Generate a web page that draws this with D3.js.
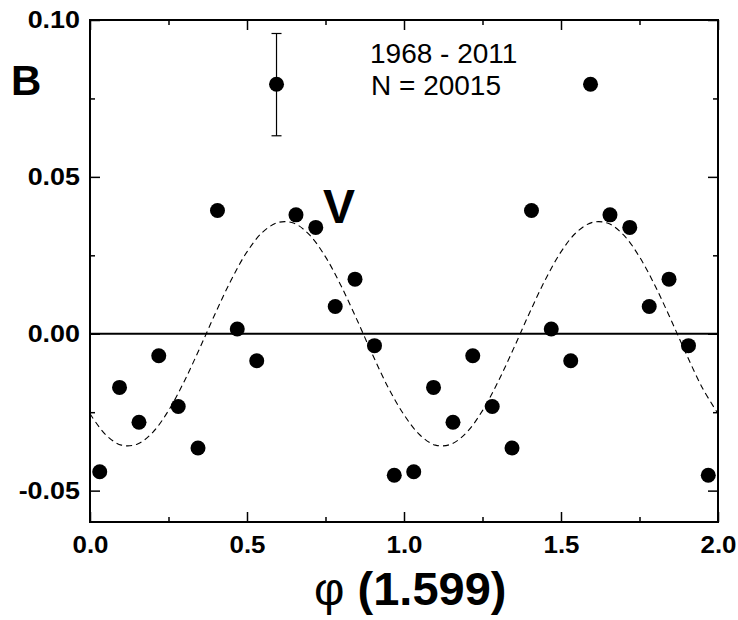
<!DOCTYPE html>
<html>
<head>
<meta charset="utf-8">
<script src="https://cdn.jsdelivr.net/npm/d3@7"></script>
<style>
  body { margin: 0; background: #fff; }
  svg { display: block; font-family: "Liberation Sans", Arial, sans-serif; }
</style>
</head>
<body>
<div id="chart"></div>
<script>
// phase-folded points, two cycles
const phase = [0.031, 0.094, 0.156, 0.219, 0.281, 0.344, 0.406, 0.469,
               0.531, 0.594, 0.656, 0.719, 0.781, 0.844, 0.906, 0.969,
               1.031, 1.094, 1.156, 1.219, 1.281, 1.344, 1.406, 1.469,
               1.531, 1.594, 1.656, 1.719, 1.781, 1.844, 1.906, 1.969];
const value = [-0.0440, -0.0171, -0.0282, -0.0070, -0.0232, -0.0364, 0.0393, 0.0015,
               -0.0086, 0.0795, 0.0379, 0.0339, 0.0087, 0.0174, -0.0038, -0.0451,
               -0.0440, -0.0171, -0.0282, -0.0070, -0.0232, -0.0364, 0.0393, 0.0015,
               -0.0086, 0.0795, 0.0379, 0.0339, 0.0087, 0.0174, -0.0038, -0.0451];

// error bar shown on one point
const barPhase = [0.594];
const barLow = [0.0631];
const barHigh = [0.0957];

// dashed fit curve
const curvePhase = [0.00, 0.05, 0.10, 0.15, 0.20, 0.25, 0.30, 0.35, 0.40, 0.45,
                    0.50, 0.55, 0.60, 0.65, 0.70, 0.75, 0.80, 0.85, 0.90, 0.95,
                    1.00, 1.05, 1.10, 1.15, 1.20, 1.25, 1.30, 1.35, 1.40, 1.45,
                    1.50, 1.55, 1.60, 1.65, 1.70, 1.75, 1.80, 1.85, 1.90, 1.95, 2.00];
const curveValue = [-0.0255, -0.0322, -0.0355, -0.0352, -0.0314, -0.0245, -0.0152, -0.0045, 0.0067, 0.0172,
                    0.0261, 0.0324, 0.0355, 0.0352, 0.0314, 0.0245, 0.0152, 0.0045, -0.0067, -0.0172,
                    -0.0258, -0.0322, -0.0355, -0.0352, -0.0314, -0.0245, -0.0152, -0.0045, 0.0067, 0.0172,
                    0.0261, 0.0324, 0.0355, 0.0352, 0.0314, 0.0245, 0.0152, 0.0045, -0.0067, -0.0172, -0.0255];

const xTicks = [0, 0.5, 1.0, 1.5, 2.0];
const xTickLabels = ["0.0", "0.5", "1.0", "1.5", "2.0"];
const xMinor = [0.25, 0.75, 1.25, 1.75];
const yTicks = [-0.05, 0, 0.05, 0.10];
const yTickLabels = ["-0.05", "0.00", "0.05", "0.10"];
const yMinor = [-0.025, 0.025, 0.075];

const W = 738, H = 620;
const margin = { top: 20, right: 20, bottom: 98, left: 90 };
const width = W - margin.left - margin.right;
const height = H - margin.top - margin.bottom;

const svgRoot = d3.select("#chart").append("svg")
  .attr("width", W).attr("height", H)
  .style("background", "#fff");

const svg = svgRoot.append("g").attr("transform", `translate(${margin.left},${margin.top})`);

const x = d3.scaleLinear().domain([0, 2]).range([0, width]);
const y = d3.scaleLinear().domain([-0.06, 0.10]).range([height, 0]);

svg.append("defs").append("clipPath").attr("id", "clip")
  .append("rect").attr("width", width).attr("height", height);

// zero line
svg.append("line")
  .attr("x1", 0).attr("x2", width)
  .attr("y1", y(0)).attr("y2", y(0))
  .attr("stroke", "#000").attr("stroke-width", 2);

// fit curve
const line = d3.line()
  .x((d, i) => x(curvePhase[i]))
  .y(d => y(d))
  .curve(d3.curveCatmullRom);

svg.append("path")
  .datum(curveValue)
  .attr("clip-path", "url(#clip)")
  .attr("fill", "none")
  .attr("stroke", "#000")
  .attr("stroke-width", 1.1)
  .attr("stroke-dasharray", "6,4")
  .attr("d", line);

// error bar
const eb = svg.append("g").attr("stroke", "#000").attr("stroke-width", 1.2);
barPhase.forEach((p, i) => {
  eb.append("line").attr("x1", x(p)).attr("x2", x(p)).attr("y1", y(barLow[i])).attr("y2", y(barHigh[i]));
  eb.append("line").attr("x1", x(p) - 5).attr("x2", x(p) + 5).attr("y1", y(barLow[i])).attr("y2", y(barLow[i]));
  eb.append("line").attr("x1", x(p) - 5).attr("x2", x(p) + 5).attr("y1", y(barHigh[i])).attr("y2", y(barHigh[i]));
});

// points
svg.append("g").selectAll("circle")
  .data(value)
  .join("circle")
  .attr("cx", (d, i) => x(phase[i]))
  .attr("cy", d => y(d))
  .attr("r", 7.5)
  .attr("fill", "#000");

// axes
function styleAxis(g) {
  g.select(".domain").remove();
  g.selectAll(".tick line").attr("stroke", "#000").attr("stroke-width", 1.5);
  g.selectAll("text")
    .attr("fill", "#000")
    .style("font-size", "24px")
    .style("font-weight", "bold");
}

const xAxisG = svg.append("g").attr("transform", `translate(0,${height})`)
  .call(d3.axisBottom(x).tickValues(xTicks).tickSizeInner(-10).tickSizeOuter(0).tickPadding(14)
    .tickFormat((d, i) => xTickLabels[i]));
styleAxis(xAxisG);
xAxisG.selectAll("text").attr("transform", "scale(1.08,1)");

const yAxisG = svg.append("g")
  .call(d3.axisLeft(y).tickValues(yTicks).tickSizeInner(-10).tickSizeOuter(0).tickPadding(9)
    .tickFormat((d, i) => yTickLabels[i]));
styleAxis(yAxisG);
yAxisG.selectAll("text").attr("transform", "scale(1.12,1)");

svg.append("g").attr("transform", `translate(0,${height})`)
  .call(d3.axisBottom(x).tickValues(xMinor).tickSize(-5).tickFormat(""))
  .call(styleAxis);
svg.append("g")
  .call(d3.axisLeft(y).tickValues(yMinor).tickSize(-5).tickFormat(""))
  .call(styleAxis);

// mirrored ticks on top and right
svg.append("g")
  .call(d3.axisTop(x).tickValues(xTicks).tickSize(-10).tickFormat(""))
  .call(styleAxis);
svg.append("g")
  .call(d3.axisTop(x).tickValues(xMinor).tickSize(-5).tickFormat(""))
  .call(styleAxis);
svg.append("g").attr("transform", `translate(${width},0)`)
  .call(d3.axisRight(y).tickValues(yTicks).tickSize(-10).tickFormat(""))
  .call(styleAxis);
svg.append("g").attr("transform", `translate(${width},0)`)
  .call(d3.axisRight(y).tickValues(yMinor).tickSize(-5).tickFormat(""))
  .call(styleAxis);

// frame
svg.append("rect")
  .attr("width", width).attr("height", height)
  .attr("fill", "none").attr("stroke", "#000").attr("stroke-width", 2);

// labels
svgRoot.append("text")
  .attr("x", 11).attr("y", 95)
  .style("font-size", "42px").style("font-weight", "bold")
  .text("B");

svgRoot.append("text")
  .attr("x", 323).attr("y", 223)
  .style("font-size", "48px").style("font-weight", "bold")
  .text("V");

svgRoot.append("text")
  .attr("x", 370).attr("y", 63)
  .style("font-size", "28px")
  .text("1968 - 2011");

svgRoot.append("text")
  .attr("x", 371).attr("y", 95)
  .style("font-size", "28px")
  .text("N = 20015");

const title = svgRoot.append("text")
  .attr("x", 314).attr("y", 605)
  .style("font-size", "47px");
title.append("tspan").style("font-weight", "normal").text("φ ");
title.append("tspan").style("font-weight", "bold").text("(1.599)");
</script>
</body>
</html>
